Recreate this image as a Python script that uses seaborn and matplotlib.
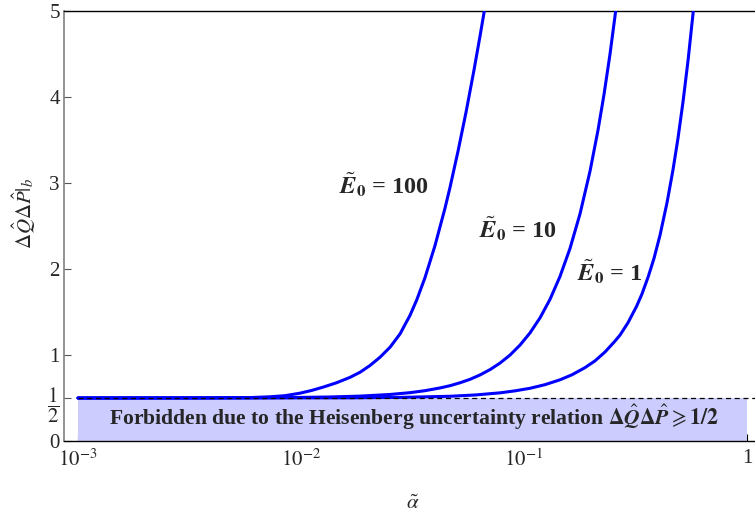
import numpy as np
import pandas as pd
import matplotlib
matplotlib.use("Agg")
import matplotlib.pyplot as plt
from matplotlib.ticker import NullLocator
import seaborn as sns

# values (alpha on a log axis)
alpha_e100 = [0.001, 0.00210, 0.003525, 0.005906, 0.007261, 0.008478, 0.009897,
              0.011166, 0.012589, 0.014461, 0.016587, 0.01839, 0.02039, 0.02261,
              0.02507, 0.02780, 0.03082, 0.03303, 0.03598, 0.03989, 0.04423,
              0.04658, 0.05058, 0.05495, 0.05968, 0.06349, 0.06637]
dqdp_e100 = [0.5, 0.5, 0.501, 0.505, 0.514, 0.527, 0.556,
             0.588, 0.627, 0.678, 0.74, 0.799, 0.878, 0.974,
             1.09, 1.245, 1.461, 1.64, 1.90, 2.272, 2.707,
             2.949, 3.368, 3.822, 4.314, 4.707, 5.0]

alpha_e10 = [0.001, 0.005906, 0.009208, 0.01349, 0.01839, 0.02507, 0.03082,
             0.03598, 0.04201, 0.04658, 0.05164, 0.05726, 0.06349, 0.07039,
             0.07805, 0.08654, 0.09595, 0.1064, 0.1180, 0.1308, 0.1450,
             0.1608, 0.1783, 0.1977, 0.2147, 0.2284, 0.2430, 0.2577]
dqdp_e10 = [0.5, 0.502, 0.5055, 0.512, 0.522, 0.541, 0.562,
            0.585, 0.617, 0.643, 0.677, 0.717, 0.768, 0.830,
            0.906, 0.999, 1.115, 1.257, 1.432, 1.647, 1.913,
            2.239, 2.641, 3.137, 3.614, 4.028, 4.497, 5.0]

alpha_e1 = [0.001, 0.016587, 0.02780, 0.04658, 0.06030, 0.07805, 0.09113,
            0.1064, 0.1242, 0.1450, 0.1641, 0.1877, 0.2081, 0.2308,
            0.2533, 0.2694, 0.2927, 0.3201, 0.3381, 0.3609, 0.3828,
            0.4073, 0.4378, 0.4658, 0.4905, 0.5164, 0.5438, 0.5744]
dqdp_e1 = [0.5, 0.502, 0.507, 0.520, 0.535, 0.560, 0.583,
           0.613, 0.655, 0.7115, 0.770, 0.853, 0.9315, 1.035,
           1.149, 1.231, 1.3755, 1.569, 1.710, 1.913, 2.124,
           2.393, 2.770, 3.154, 3.522, 3.942, 4.42, 5.0]

curve_labels = [r"$\tilde{\mathbfit{E}}_{\mathbf{0}}$ = 100",
                r"$\tilde{\mathbfit{E}}_{\mathbf{0}}$ = 10",
                r"$\tilde{\mathbfit{E}}_{\mathbf{0}}$ = 1"]
label_pos = [(0.0236, 2.98), (0.094, 2.47), (0.243, 1.97)]

forbidden_bound = 0.5
forbidden_x = [0.001, 1.0]

xticks = [1e-3, 1e-2, 1e-1, 1]
xticklabels = [r"$10^{-3}$", r"$10^{-2}$", r"$10^{-1}$", "1"]
yticks = [0, 0.5, 1, 2, 3, 4, 5]
yticklabels = ["0", r"$\dfrac{1}{2}$", "1", "2", "3", "4", "5"]

df = pd.concat([
    pd.DataFrame({"alpha": alpha_e100, "val": dqdp_e100, "E0": "100"}),
    pd.DataFrame({"alpha": alpha_e10, "val": dqdp_e10, "E0": "10"}),
    pd.DataFrame({"alpha": alpha_e1, "val": dqdp_e1, "E0": "1"}),
])

sns.set_theme(style="white")
plt.rcParams["font.family"] = ["Liberation Serif", "DejaVu Serif"]
plt.rcParams["mathtext.fontset"] = "stix"

fig = plt.figure(figsize=(7.55, 5.14), dpi=100)
ax = fig.add_axes([64 / 755, 73 / 514, 691 / 755, 430 / 514])

# forbidden band and its boundary
ax.fill_between(forbidden_x, 0, forbidden_bound, color="#ccccff", lw=0, zorder=1)
ax.axhline(forbidden_bound, xmin=(78 - 64) / 691, color="black", lw=0.9,
           ls=(0, (4, 3)), zorder=4)

sns.lineplot(data=df, x="alpha", y="val", units="E0", estimator=None,
             color="#0000ff", lw=2.2, ax=ax, zorder=3, sort=False)

for txt, (x, y) in zip(curve_labels, label_pos):
    ax.text(x, y, txt, ha="center", va="center", fontsize=17.5, fontweight="bold")

ax.text(0.0320, 0.28,
        "Forbidden due to the Heisenberg uncertainty relation "
        r"$\mathbf{\Delta}\hat{\mathbfit{Q}}\mathbf{\Delta}\hat{\mathbfit{P}}\geqslant\mathbf{1/2}$",
        ha="center", va="center", fontsize=15.6, fontweight="bold")

ax.set_xscale("log")
ax.set_xlim(10 ** (-3 - 14 / 223), 10 ** ((755 - 78) / 223 - 3))
ax.set_ylim(0, 5)
ax.set_xticks(xticks)
ax.set_xticklabels(xticklabels)
ax.xaxis.set_minor_locator(NullLocator())
ax.set_yticks(yticks)
ax.set_yticklabels(yticklabels)

ax.tick_params(axis="x", direction="in", length=5, width=0.8, color="black",
               labelsize=15, pad=6, bottom=True)
ax.tick_params(axis="y", direction="in", length=5, width=0.8, color="#555555",
               labelsize=15, pad=3, left=True)

ax.set_xlabel(r"$\tilde{\alpha}$", fontsize=15)
ax.set_ylabel(r"$\Delta\hat{Q}\Delta\hat{P}|_b$", fontsize=15)
ax.xaxis.set_label_coords(0.505, -0.125)
ax.yaxis.set_label_coords(-0.038, 0.53)

ax.spines["right"].set_visible(False)
ax.spines["top"].set_color("black")
ax.spines["top"].set_linewidth(1.0)
ax.spines["bottom"].set_color("black")
ax.spines["bottom"].set_linewidth(1.0)
ax.spines["left"].set_color("#808080")
ax.spines["left"].set_linewidth(1.2)
ax.grid(False)

fig.savefig("out.png", dpi=100)
